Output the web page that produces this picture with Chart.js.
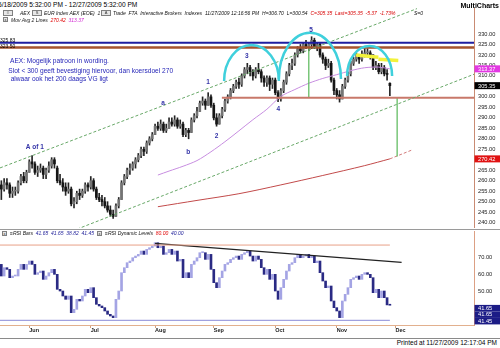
<!DOCTYPE html>
<html lang="nl">
<head>
<meta charset="utf-8">
<title>AEX daggrafiek</title>
<script src="https://cdn.jsdelivr.net/npm/chart.js@4.4.1/dist/chart.umd.min.js"></script>
<style>
  html, body { margin:0; padding:0; background:#fff; }
  body { width:500px; height:348px; position:relative; overflow:hidden;
         font-family:"Liberation Sans", Arial, sans-serif; color:#000; }
  canvas { position:absolute; left:0; display:block; }
  #price { top:8px; }
  #rsi { top:231px; }
  .t { position:absolute; white-space:nowrap; line-height:1; }
  .hdr { font-size:5px; font-style:italic; color:#111; }
  .ico { position:absolute; border:1px solid #808080; background:#e6e6e6; box-sizing:border-box;
         font-size:4px; line-height:4px; text-align:center; color:#333; }
  .rule { position:absolute; left:0; width:500px; height:1px; }
</style>
</head>
<body>
<canvas id="price" width="500" height="220"></canvas>
<canvas id="rsi" width="500" height="107"></canvas>
<div class="rule" style="top:229px;background:#9a9a9a"></div>
<div class="rule" style="top:338px;background:#8a8a8a"></div>

<div class="t" style="left:-2px;top:1.7px;font-size:6.6px;">5/18/2009 5:32:00 PM - 12/27/2009 5:32:00 PM</div>
<div class="t" style="right:1px;top:1.5px;font-size:7px;font-weight:bold;">MultiCharts</div>

<div class="ico" style="left:3px;top:10px;width:10px;height:6px;">≡</div>
<div class="t hdr" style="left:20px;top:10.5px;">AEX</div>
<div class="ico" style="left:32px;top:10px;width:10px;height:6px;">S</div>
<div class="t hdr" style="left:44px;top:10.5px;">EUR Index AEX (EOE) &nbsp;1 Day</div>
<div class="ico" style="left:101px;top:10px;width:10px;height:6px;">A</div>
<div class="t hdr" style="left:113px;top:10.5px;">Trade &nbsp;FTA &nbsp;Interactive Brokers &nbsp;Indexes &nbsp;11/27/2009 12:16:56 PM &nbsp;H=306.70 &nbsp;L=300.54 &nbsp;<span style="color:#d80000">C=305.35 &nbsp;Last=305.35 &nbsp;-5.37 &nbsp;-1.73%</span></div>
<div class="t hdr" style="left:414px;top:10.5px;">S=0</div>

<div class="ico" style="left:3px;top:17px;width:5px;height:5px;">x</div>
<div class="t hdr" style="left:11px;top:17.5px;">Mov Avg 2 Lines &nbsp;<span style="color:#e00000">270.42</span> &nbsp;<span style="color:#d020d0">313.37</span></div>

<div class="t" style="left:0;top:37.5px;font-size:5px;">325.83</div>
<div class="t" style="left:0;top:43.5px;font-size:5px;">323.50</div>

<div class="ico" style="left:2px;top:231px;width:5px;height:5px;">x</div>
<div class="t hdr" style="left:10px;top:231px;">≡RSI Bars &nbsp;<span style="color:#22229a">41.65 &nbsp;41.65 &nbsp;38.82 &nbsp;41.45</span></div>
<div class="ico" style="left:97px;top:231px;width:5px;height:5px;">x</div>
<div class="t hdr" style="left:105px;top:231px;">≡RSI Dynamic Levels &nbsp;<span style="color:#e00000">80.00</span> &nbsp;<span style="color:#22229a">40.00</span></div>

<div class="t" style="right:3px;top:339.7px;font-size:6.5px;">Printed at 11/27/2009 12:17:04 PM</div>

<script>
// ---------- AEX daily bars, 18 May - 27 Nov 2009 (bar 0 = 18 May) ----------
const barOpen = [
  258,256,259,258,254,255,255,259,262,260,
  264,269,268,264,265,266,263,265,267,270,
  266,260,259,257,255,256,249,250,254,253,
  255,258,257,260,256,252,251,250,248,246,
  244,243,248,251,259,262,265,266,268,270,
  272,275,274,278,280,282,286,285,287,284,
  285,288,287,289,286,287,282,284,283,289,
  291,293,297,298,296,300,296,290,287,291,
  294,298,300,303,305,307,306,310,313,314,
  312,310,313,312,309,307,309,306,308,302,
  299,303,307,311,315,316,320,323,322,325,
  324,325,327,324,325,320,318,315,316,308,
  303,301,299,305,308,311,316,318,319,318,
  320,321,321,320,314,315,312,314,311,306.5];
const barHigh = [
  260,261,261,259,257,257,260,263,264,265,
  270,272,269,267,268,267,266,269,271,271,
  267,263,261,259,259,257,252,255,256,256,
  259,259,262,261,257,254,253,252,250,248,
  246,249,252,260,263,266,268,269,271,273,
  276,276,279,281,283,287,288,289,288,287,
  290,290,291,290,289,288,285,285,290,292,
  295,298,300,299,302,301,297,292,292,295,
  299,301,304,306,308,309,311,314,316,315,
  313,314,316,313,310,310,310,309,309,303,
  304,308,312,316,318,321,324,325,326,327,
  326,328.7,328,326,326,321,319,318,317,309,
  304,303,306,309,312,317,319,321,320,322,
  323,323,322,320,317,316,316,315,313,306.7];
const barLow = [
  251,255,256,252,252,253,254,258,259,259,
  264,266,263,262,264,261,261,264,266,266,
  259,258,255,253,254,248,247,249,251,252,
  254,255,256,255,251,250,248,247,245,243,
  242,243,247,251,258,261,263,265,266,269,
  271,272,273,277,279,282,284,284,283,283,
  285,286,286,285,285,281,281,280,283,288,
  290,293,296,294,296,295,289,286,287,290,
  293,297,299,302,304,304,305,309,311,310,
  308,309,311,307,305,305,303,304,301,297.7,
  298,302,306,310,313,315,319,321,321,323,
  322,323,323,322,319,316,313,314,307,301,
  299,297.5,299,304,307,310,315,317,316,317,
  319,319,318,313,313,311,311,310,308,300.54];
const barClose = [
  256,259,258,254,255,255,259,262,260,264,
  269,268,264,265,266,263,265,267,270,268,
  260,259,257,255,256,249,250,254,253,255,
  258,257,260,256,252,251,250,248,246,244,
  243,248,251,259,262,265,266,268,270,272,
  275,274,278,280,282,286,285,287,284,285,
  288,287,289,286,287,282,284,283,289,291,
  293,297,298,296,300,296,290,287,291,294,
  298,300,303,305,307,306,310,313,314,312,
  310,313,312,309,307,309,306,308,302,299,
  303,307,311,315,316,320,323,322,325,324,
  325,327,324,325,320,318,315,316,308,303,
  301,299,305,308,311,316,318,319,318,320,
  321,321,320,314,315,312,314,311,310.72,305.35];

// RSI bars: each bar runs from the previous RSI close to the current one
const rsiPrior = 66;
const rsiClose = [
  59,64,63,58,59,59,63,66,63,66,
  68,66,60,61,62,57,59,61,63,60,
  51,50,47,45,47,37,39,45,44,47,
  51,49,52,46,42,41,40,38,36,35,
  34,45,50,61,64,67,68,70,71,72,
  74,72,75,76,77,79,76,77,72,73,
  75,72,74,68,69,58,61,58,66,68,
  70,73,73,69,72,63,55,52,58,62,
  66,67,69,70,71,69,72,73,74,71,
  68,71,69,64,60,63,57,60,50,45,
  52,57,62,66,67,70,72,70,71,72,
  70,71,67,68,61,56,52,53,44,40,
  38,34,44,48,52,57,58,59,57,60,
  61,60,58,49,51,46,50,46,41.65,41.45];
const rsiBoxValues = [41.65, 41.65, 41.45];
const rsiLevels = [77.6, 32.4];          // dynamic upper / lower level
const rsiTrendBars = [55, 143.2];
const rsiTrendVals = [78.6, 67.2];

// moving averages (50 and 200 days)
const ma50Bars = [56,60,65,70,75,80,85,90,95,100,105,110,115,120,125,130,135,139];
const ma50 = [262.7,264.6,266.9,269.6,273.8,278.6,283.8,289.1,294.1,300.2,303.5,306.5,308.8,310.6,312.5,313.9,314.2,313.37];
const ma200Bars = [56,70,85,100,115,130,139];
const ma200 = [247.6,250.6,253.8,258.0,262.5,267.2,270.42];
const ma200ProjBars = [139, 147];
const ma200Proj = [270.42, 274.7];

// axes
const monthNames = ['Jun','Jul','Aug','Sep','Oct','Nov','Dec'];
const monthStartBars = [10, 32, 55, 76, 98, 120, 141];
const priceTicks = [240,245,250,255,260,265,270,275,280,285,290,295,300,305,310,315,320,325,330];
const rsiTicks = [50, 60, 70];
const viewBars = [-0.48, 169.1];
const priceRange = [237.44, 342.4];
const rsiRange = [29.58, 86.04];

// last values shown on the price axis
const axisMarks = [313.37, 305.35, 270.42];

// drawings: levels, trend channel, pattern arcs, targets (bar index, price)
const resistLevels = [325.83, 323.6];
const neckline = [78.9, 299.6];                 // start bar, price
const channelUpperBars = [-0.48, 148.7], channelUpperVals = [266.1, 342.1];
const channelLowerBars = [27.1, 169.1],  channelLowerVals = [236.9, 310.8];
const targetBars = [110, 141.6];
const targetTops = [323.9, 299.6];
const targetBottoms = [299.6, 271.5];
const topZoneBars = [[126.9, 134.9], [134.9, 142]];
const topZoneVals = [[320, 318.9], [317.9, 317.3]];
const arcFrom = [79.7, 99.3, 123.7];
const arcTo = [99.3, 121.5, 139.8];
const arcBase = [307.6, 308.5, 310];
const arcTop = [324.8, 330.6, 324.3];

// wave labels
const waveText = ['A of 1', 'a', 'b', '1', '2', '3', '4', '5'];
const waveBars = [12.0, 57.9, 66.9, 74.0, 77.0, 87.8, 99.1, 110.8];
const waveVals = [275.9, 297.2, 273.8, 306.8, 281.0, 319.6, 294.2, 331.6];

// comment
const noteText = ['AEX: Mogelijk patroon in wording.',
                  'Slot < 300 geeft bevestiging hiervoor, dan koersdoel 270',
                  'alwaar ook het 200 daags VG ligt'];
const noteBars = [3.09, 2.49, 3.34];
const noteVals = [317.26, 312.49, 308.67];

// ---------- helpers ----------
const FONT = '"Liberation Sans", Arial, sans-serif';
const pts = (xs, ys) => xs.map((x, i) => ({x, y: ys[i]}));
function lineSet(data, color, width, extra) {
  return Object.assign({type: 'line', data, borderColor: color, borderWidth: width,
    pointRadius: 0, fill: false, tension: 0, order: 1}, extra || {});
}
// axes hug the plot edges: no extra room reserved around the tick labels
const noPad = s => { s.paddingTop = 0; s.paddingBottom = 0; s.paddingLeft = 0; s.paddingRight = 0; };

// ---------- price panel ----------
const bars = barClose.map((_, i) => i);
const wickData = bars.map(i => ({x: i, y: [barLow[i], barHigh[i]]}));
const bodyData = bars.map(i => ({x: i, y: [barOpen[i], barClose[i]]}));

const priceDatasets = [
  {type: 'bar', data: bodyData, grouped: false, barThickness: 2, minBarLength: 1, order: 10,
   backgroundColor: c => barClose[c.dataIndex] >= barOpen[c.dataIndex] ? '#747474' : '#151515'},
  {type: 'bar', data: wickData, grouped: false, barThickness: 1, order: 11, backgroundColor: '#252525'},
  lineSet(pts(ma200Bars, ma200), '#c24a4a', 1, {tension: 0.3, order: 5}),
  lineSet(pts(ma200ProjBars, ma200Proj), '#d27a7a', 1, {borderDash: [3, 2], order: 5}),
  lineSet(pts(ma50Bars, ma50), '#c78de0', 1, {tension: 0.3, order: 5}),
  lineSet(pts(channelUpperBars, channelUpperVals), '#68a868', 1, {borderDash: [3, 2]}),
  lineSet(pts(channelLowerBars, channelLowerVals), '#68a868', 1, {borderDash: [3, 2]}),
  lineSet(pts(viewBars, [resistLevels[0], resistLevels[0]]), '#1e1ea0', 2),
  lineSet(pts(viewBars, [resistLevels[1], resistLevels[1]]), '#a5532e', 2.5),
  lineSet(pts([neckline[0], viewBars[1]], [neckline[1], neckline[1]]), '#c8786a', 2),
  lineSet(pts([targetBars[0], targetBars[0]], [targetTops[0], targetBottoms[0]]), '#58b858', 1.2),
  lineSet(pts([targetBars[1], targetBars[1]], [targetTops[1], targetBottoms[1]]), '#58b858', 1.2),
  lineSet(pts(topZoneBars[0], topZoneVals[0]), '#f2f23a', 3.5),
  lineSet(pts(topZoneBars[1], topZoneVals[1]), '#f2f23a', 3.5)
];

const priceMarks = {
  id: 'priceMarks',
  afterDatasetsDraw(chart) {
    const {ctx, chartArea: a, scales: {x, y}} = chart;
    ctx.save();
    ctx.beginPath(); ctx.rect(a.left, a.top, a.width, a.height); ctx.clip();
    // pattern arcs
    ctx.strokeStyle = '#3fd0dc'; ctx.lineWidth = 2.5;
    arcFrom.forEach((f, k) => {
      const x0 = x.getPixelForValue(f), x1 = x.getPixelForValue(arcTo[k]);
      const yb = y.getPixelForValue(arcBase[k]), yt = y.getPixelForValue(arcTop[k]);
      ctx.beginPath();
      ctx.ellipse((x0 + x1) / 2, yb, (x1 - x0) / 2, yb - yt, 0, Math.PI, 2 * Math.PI);
      ctx.stroke();
    });
    // wave labels
    ctx.fillStyle = '#3434a8';
    ctx.font = 'bold 6.5px ' + FONT;
    ctx.textAlign = 'center'; ctx.textBaseline = 'middle';
    waveText.forEach((t, k) => ctx.fillText(t, x.getPixelForValue(waveBars[k]), y.getPixelForValue(waveVals[k])));
    // comment
    ctx.fillStyle = '#2626b8';
    ctx.font = '6.6px ' + FONT;
    ctx.textAlign = 'left';
    noteText.forEach((t, k) => ctx.fillText(t, x.getPixelForValue(noteBars[k]), y.getPixelForValue(noteVals[k])));
    ctx.restore();
  },
  afterDraw(chart) {
    const {ctx, chartArea: a, scales: {y}} = chart;
    const colors = [['#e238e2', '#fff'], ['#000', '#fff'], ['#e01212', '#fff']];
    ctx.save();
    ctx.font = '5.7px ' + FONT; ctx.textBaseline = 'middle'; ctx.textAlign = 'left';
    axisMarks.forEach((v, k) => {
      const py = y.getPixelForValue(v);
      ctx.fillStyle = colors[k][0];
      ctx.fillRect(a.right + 0.5, py - 3.5, 26, 7);
      ctx.fillStyle = colors[k][1];
      ctx.fillText(v.toFixed(2), a.right + 4, py + 0.3);
    });
    ctx.restore();
  }
};

new Chart(document.getElementById('price'), {
  type: 'bar',
  data: {datasets: priceDatasets},
  options: {
    responsive: false, animation: false, devicePixelRatio: 1, events: [],
    layout: {padding: 0, autoPadding: false},
    plugins: {legend: {display: false}, tooltip: {enabled: false}},
    scales: {
      x: {type: 'linear', min: viewBars[0], max: viewBars[1], offset: false, display: false,
          grid: {offset: false}},
      y: {type: 'linear', position: 'right', min: priceRange[0], max: priceRange[1],
          afterBuildTicks: s => { s.ticks = priceTicks.map(v => ({value: v})); },
          afterFit: s => { s.width = 26; noPad(s); },
          grid: {drawOnChartArea: false, drawTicks: false},
          border: {display: true, color: '#c98b73', width: 1},
          ticks: {padding: 4, color: '#222', font: {family: FONT, size: 5.7},
                  callback: v => v.toFixed(2)}}
    }
  },
  plugins: [priceMarks]
});

// ---------- RSI panel ----------
const rsiBarData = rsiClose.map((v, i) => ({x: i, y: [i ? rsiClose[i - 1] : rsiPrior, v]}));
const lastBar = rsiClose.length - 1;

const rsiMarks = {
  id: 'rsiMarks',
  afterDraw(chart) {
    const {ctx, chartArea: a, scales: {y}} = chart;
    ctx.save();
    ctx.font = '5.7px ' + FONT; ctx.textBaseline = 'middle'; ctx.textAlign = 'left';
    let top = y.getPixelForValue(rsiBoxValues[0]);
    rsiBoxValues.forEach(v => {
      ctx.fillStyle = '#1c1c86';
      ctx.fillRect(a.right + 0.5, top, 26, 6.5);
      ctx.fillStyle = '#fff';
      ctx.fillText(v.toFixed(2), a.right + 4, top + 3.4);
      top += 6.5;
    });
    ctx.restore();
  }
};

new Chart(document.getElementById('rsi'), {
  type: 'bar',
  data: {datasets: [
    {type: 'bar', data: rsiBarData, grouped: false, barThickness: 2, minBarLength: 1, order: 10,
     backgroundColor: c => c.raw.y[1] >= c.raw.y[0] ? '#a4a4e4' : '#2a2a84'},
    lineSet(pts([viewBars[0], lastBar], [rsiLevels[0], rsiLevels[0]]), '#e8a088', 1),
    lineSet(pts([viewBars[0], lastBar], [rsiLevels[1], rsiLevels[1]]), '#8a8ad8', 1),
    lineSet(pts(rsiTrendBars, rsiTrendVals), '#222', 1.2)
  ]},
  options: {
    responsive: false, animation: false, devicePixelRatio: 1, events: [],
    layout: {padding: 0, autoPadding: false},
    plugins: {legend: {display: false}, tooltip: {enabled: false}},
    scales: {
      x: {type: 'linear', position: 'bottom', min: viewBars[0], max: viewBars[1], offset: false,
          afterBuildTicks: s => { s.ticks = monthStartBars.map(v => ({value: v})); },
          afterFit: s => { s.height = 13; noPad(s); },
          grid: {drawOnChartArea: false, drawTicks: true, tickLength: 3, color: '#d4a07c', offset: false},
          border: {display: true, color: '#e2b08e'},
          ticks: {autoSkip: false, maxRotation: 0, minRotation: 0, align: 'start', padding: -1,
                  color: '#222', font: {family: FONT, size: 5.5, weight: 'bold'},
                  callback: (v, i) => monthNames[i]}},
      y: {type: 'linear', position: 'right', min: rsiRange[0], max: rsiRange[1],
          afterBuildTicks: s => { s.ticks = rsiTicks.map(v => ({value: v})); },
          afterFit: s => { s.width = 26; noPad(s); },
          grid: {drawOnChartArea: false, drawTicks: false},
          border: {display: true, color: '#dca084', width: 1},
          ticks: {padding: 4, color: '#222', font: {family: FONT, size: 5.7},
                  callback: v => v.toFixed(2)}}
    }
  },
  plugins: [rsiMarks]
});
</script>
</body>
</html>
